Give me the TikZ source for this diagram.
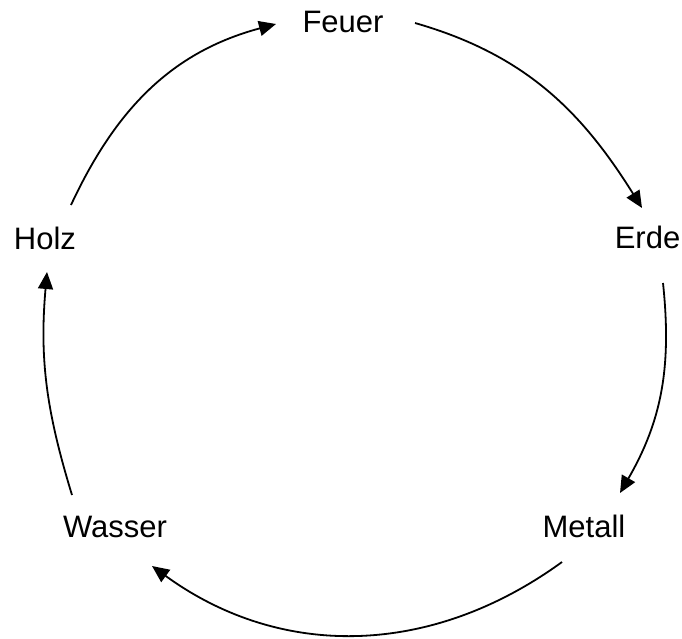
\documentclass[tikz,border=0pt]{standalone}
\usepackage{fontspec}
\setmainfont{Liberation Sans}
\usetikzlibrary{arrows.meta}
\begin{document}
\begin{tikzpicture}[x=1pt,y=-1pt,
  lbl/.style={anchor=base,inner sep=0pt,font=\fontsize{31}{37}\selectfont},
  conn/.style={line width=1.8pt,-{Triangle[length=17pt,width=15pt]}}]
\useasboundingbox (0,0) rectangle (682,638);
\node[lbl] (feuer) at (343,32) {Feuer};
\node[lbl] (erde) at (647.5,248) {Erde};
\node[lbl] (holz) at (45,249) {Holz};
\node[lbl] (wasser) at (115,537) {Wasser};
\node[lbl] (metall) at (584,537) {Metall};
\coordinate (h1) at (71,205);
\coordinate (f0) at (276,24);
\coordinate (f1) at (415,23);
\coordinate (e0) at (642,208);
\coordinate (e1) at (663,283);
\coordinate (m0) at (620,493);
\coordinate (m1) at (562,562);
\coordinate (w0) at (152,566);
\coordinate (w1) at (72,495);
\coordinate (h0) at (47,272);
\draw[conn] (h1) to[out=65,in=195] (f0);
\draw[conn] (f1) to[out=-16,in=122] (e0);
\draw[conn] (e1) to[out=-84,in=60] (m0);
\draw[conn] (m1) to[out=216,in=-36] (w0);
\draw[conn] (w1) to[out=107,in=265] (h0);
\end{tikzpicture}
\end{document}
